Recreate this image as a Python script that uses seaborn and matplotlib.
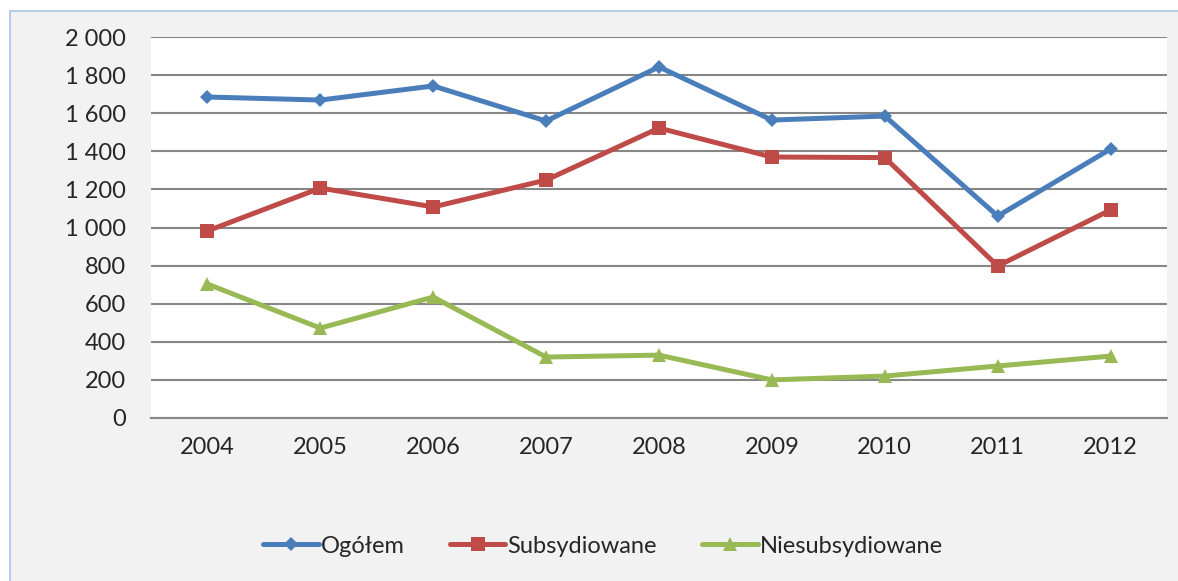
import seaborn as sns
import matplotlib.pyplot as plt
import pandas as pd
from matplotlib.patches import Rectangle

years = ["2004", "2005", "2006", "2007", "2008", "2009", "2010", "2011", "2012"]
ogolem = [1685, 1669, 1743, 1559, 1843, 1564, 1585, 1060, 1412]
subsydiowane = [982, 1207, 1108, 1249, 1522, 1370, 1367, 798, 1092]
niesubsydiowane = [703, 472, 635, 320, 330, 200, 220, 273, 325]
series_names = ["Ogółem", "Subsydiowane", "Niesubsydiowane"]
y_ticks = [0, 200, 400, 600, 800, 1000, 1200, 1400, 1600, 1800, 2000]
y_labels = ["0", "200", "400", "600", "800", "1 000", "1 200", "1 400", "1 600", "1 800", "2 000"]

df = pd.DataFrame({
    "year": years * 3,
    "value": ogolem + subsydiowane + niesubsydiowane,
    "series": [series_names[0]] * 9 + [series_names[1]] * 9 + [series_names[2]] * 9,
})

sns.set_style("white")
plt.rcParams["font.family"] = ["Lato", "DejaVu Sans"]

fig = plt.figure(figsize=(11.78, 5.81), dpi=100)
fig.patch.set_facecolor("white")
# outer chart frame (Excel style)
fig.patches.append(Rectangle((10 / 1178, -0.01), 1.0, 1 - 11 / 581 + 0.01, transform=fig.transFigure,
                             facecolor="#f2f2f2", edgecolor="#a9c4e8", linewidth=1.2, zorder=-1))

ax = fig.add_axes([151 / 1178, 163 / 581, 1016 / 1178, 381 / 581])
ax.set_facecolor("white")

palette = {"Ogółem": "#4a7ebb", "Subsydiowane": "#be4b48", "Niesubsydiowane": "#98b954"}
markers = {"Ogółem": "D", "Subsydiowane": "s", "Niesubsydiowane": "^"}
sizes = {"Ogółem": 7.5, "Subsydiowane": 9.5, "Niesubsydiowane": 10.5}

for name in series_names:
    sub = df[df["series"] == name]
    sns.lineplot(data=sub, x="year", y="value", color=palette[name], marker=markers[name],
                 markersize=sizes[name], markeredgewidth=0, linewidth=3.6, label=name, ax=ax,
                 sort=False, zorder=3)

ax.set_xlim(-0.5, 8.5)
ax.set_ylim(0, 2000)
ax.set_yticks(y_ticks)
ax.set_yticklabels(y_labels)
ax.yaxis.grid(True, color="#868686", linewidth=1.5)
ax.set_axisbelow(True)
ax.set_xlabel("")
ax.set_ylabel("")

for s in ["top", "right", "left"]:
    ax.spines[s].set_visible(False)
ax.spines["bottom"].set_color("#868686")
ax.spines["bottom"].set_linewidth(1.5)

ax.set_xticks(range(9))
ax.set_xticklabels(years)
ax.set_xticks([i - 0.5 for i in range(10)], minor=True)
ax.tick_params(axis="x", which="major", length=0, pad=14, labelsize=17)
ax.tick_params(axis="x", which="minor", length=7, width=1.5, color="#868686", direction="out")
ax.tick_params(axis="y", length=0, pad=18, labelsize=17)

ax.legend_.remove()
handles, labels = ax.get_legend_handles_labels()
fig.legend(handles, labels, loc="center", bbox_to_anchor=(0.512, 0.06), ncol=3, frameon=False,
           fontsize=17, handlelength=2.35, handletextpad=0.1, columnspacing=1.9)

plt.savefig("out.png", dpi=100)
